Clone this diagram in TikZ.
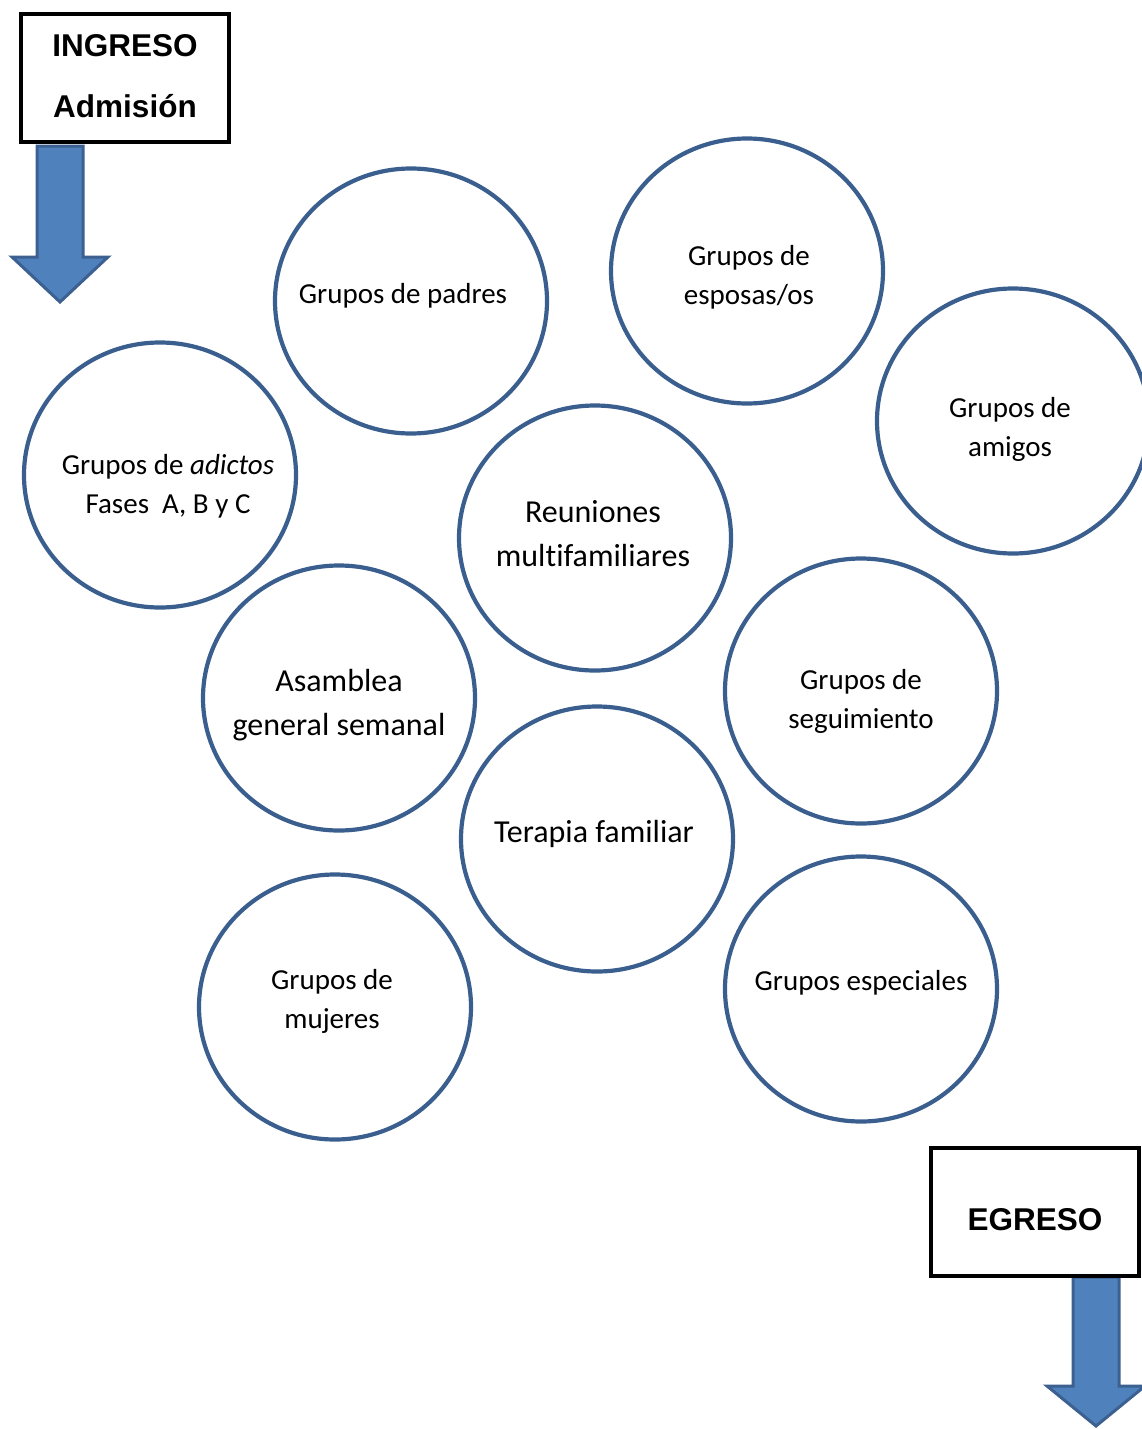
\documentclass[tikz,border=0pt]{standalone}
\usepackage{fontspec}
\setmainfont{Carlito}[RawFeature={-liga;-clig;-dlig}]
\newfontfamily\headfont{Liberation Sans}
\usetikzlibrary{shapes.geometric}
\definecolor{ringblue}{HTML}{3A5F8F}
\definecolor{arrowfill}{HTML}{4F81BD}
\definecolor{arrowline}{HTML}{3C6090}
\begin{document}
\begin{tikzpicture}[x=1pt,y=-1pt,
  ring/.style={draw=ringblue,line width=4.2pt,ellipse,minimum width=272pt,minimum height=265pt,inner sep=0pt},
  txt/.style={align=center,font=\fontsize{29}{39}\selectfont,inner sep=0pt},
  bigtxt/.style={align=center,font=\fontsize{32}{44}\selectfont,inner sep=0pt},
  headbox/.style={draw=black,line width=3.6pt,fill=white,rectangle,inner sep=0pt},
  headtxt/.style={font=\headfont\bfseries\fontsize{31.5}{61}\selectfont,align=center,inner sep=0pt},
  blockarrow/.style={fill=arrowfill,draw=arrowline,line width=3pt,line join=miter}]
\useasboundingbox (0,0) rectangle (1142,1429);
% block arrows
\coordinate (a1) at (60,146);
\coordinate (a2) at (1096,1277);
\draw[blockarrow] (37,146) -- (83,146) -- (83,257) -- (108,257) -- (60,302) -- (12,257) -- (37,257) -- cycle;
\draw[blockarrow] (1073,1277) -- (1119,1277) -- (1119,1386) -- (1145,1386) -- (1096,1426) -- (1047,1386) -- (1073,1386) -- cycle;
% boxes
\node[headbox,minimum width=208pt,minimum height=128pt] (ingreso) at (125,78) {};
\node[headtxt] (ingresot) at (125,76) {INGRESO\\Admisión};
\node[headbox,minimum width=208pt,minimum height=128pt] (egreso) at (1035,1212) {};
\node[headtxt] (egresot) at (1035,1220) {EGRESO};
% circles
\node[ring] (padres) at (411,301) {};
\node[ring] (esposas) at (747,271) {};
\node[ring] (amigos) at (1013,421) {};
\node[ring] (adictos) at (160,475) {};
\node[ring] (reuniones) at (595,538) {};
\node[ring] (asamblea) at (339,698) {};
\node[ring] (seguimiento) at (861,691) {};
\node[ring] (terapia) at (597,839) {};
\node[ring] (mujeres) at (335,1007) {};
\node[ring] (especiales) at (861,989) {};
% texts
\node[txt] (padrest) at (403,296) {Grupos de padres};
\node[txt] (esposast) at (749,277) {Grupos de\\esposas/os};
\node[txt] (amigost) at (1010,429) {Grupos de\\amigos};
\node[txt] (adictost) at (168,486) {Grupos de \textit{adictos}\\Fases\ \ A, B y C};
\node[bigtxt] (reunionest) at (593,534) {Reuniones\\multifamiliares};
\node[bigtxt] (asambleat) at (339,705) {Asamblea\\general semanal};
\node[txt] (seguimientot) at (861,701) {Grupos de\\seguimiento};
\node[bigtxt] (terapiat) at (594,834) {Terapia familiar};
\node[txt] (mujerest) at (332,1001) {Grupos de\\mujeres};
\node[txt] (especialest) at (861,983) {Grupos especiales};
\end{tikzpicture}
\end{document}
